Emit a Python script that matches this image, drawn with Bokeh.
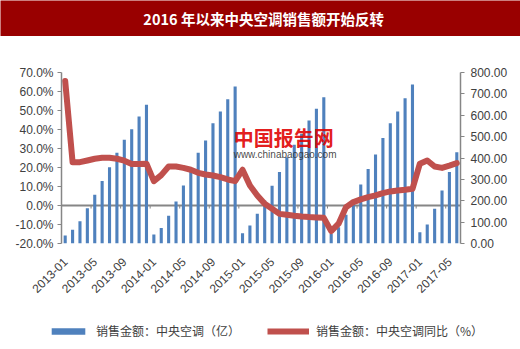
import math
from bokeh.plotting import figure
from bokeh.models import (Range1d, LinearAxis, Span, Legend, LegendItem,
                          FixedTicker, PrintfTickFormatter, Label, ColumnDataSource)
from bokeh.layouts import column
from bokeh.embed import file_html
from bokeh.resources import INLINE
from bokeh.core.properties import value

title_text = "2016 年以来中央空调销售额开始反转"

months = [
    "2013-01", "2013-02", "2013-03", "2013-04", "2013-05", "2013-06",
    "2013-07", "2013-08", "2013-09", "2013-10", "2013-11", "2013-12",
    "2014-01", "2014-02", "2014-03", "2014-04", "2014-05", "2014-06",
    "2014-07", "2014-08", "2014-09", "2014-10", "2014-11", "2014-12",
    "2015-01", "2015-02", "2015-03", "2015-04", "2015-05", "2015-06",
    "2015-07", "2015-08", "2015-09", "2015-10", "2015-11", "2015-12",
    "2016-01", "2016-02", "2016-03", "2016-04", "2016-05", "2016-06",
    "2016-07", "2016-08", "2016-09", "2016-10", "2016-11", "2016-12",
    "2017-01", "2017-02", "2017-03", "2017-04", "2017-05", "2017-06",
]

# 销售金额：中央空调（亿） - cumulative, right axis
sales = [
    37, 64, 104, 165, 228, 292, 357, 424, 485, 535, 594, 649,
    42, 73, 130, 196, 271, 341, 424, 482, 563, 617, 675, 734,
    48, 84, 139, 201, 270, 334, 404, 462, 513, 575, 630, 684,
    45, 76, 134, 205, 276, 349, 416, 494, 563, 617, 680, 744,
    53, 89, 162, 248, 334, 427,
]

# 销售金额：中央空调同比（%） - left axis
yoy = [
    65.5, 22.8, 22.8, 23.7, 24.6, 25.1, 25.1, 24.6, 23.6, 21.9, 21.8, 22.0,
    12.8, 16.0, 20.5, 20.5, 19.8, 18.8, 17.2, 16.3, 15.8, 14.9, 13.7, 12.8,
    18.8, 10.5, 5.3, 0.9, -1.7, -4.4, -4.9, -5.4, -5.8, -6.1, -6.3, -6.5,
    -13.5, -9.6, -0.9, 1.8, 3.2, 4.4, 5.3, 6.5, 7.4, 7.9, 8.3, 8.8,
    22.0, 23.7, 20.5, 19.8, 21.0, 22.3,
]

label_step = 4
left_ticks = [-20, -10, 0, 10, 20, 30, 40, 50, 60, 70]
right_ticks = [0, 100, 200, 300, 400, 500, 600, 700, 800]
legend_labels = ["销售金额：中央空调（亿）", "销售金额：中央空调同比（%）"]

BAR_COLOR = "#4F81BD"
LINE_COLOR = "#C0504D"
AXIS_COLOR = "#868686"
TEXT_COLOR = "#404040"

# ---------- banner ----------
banner = figure(width=520, height=36, x_range=Range1d(0, 1), y_range=Range1d(0, 1),
                output_backend="svg", toolbar_location=None, min_border=0,
                x_axis_location=None, y_axis_location=None)
banner.frame_align = False
banner.grid.visible = False
banner.outline_line_color = None
banner.background_fill_color = "#990000"
banner.border_fill_color = "#990000"
banner.text(x=[0.506], y=[0.5], text=[title_text], text_color="white",
            text_font=value("Noto Sans CJK SC"), text_font_style="bold",
            text_font_size="14.5px", text_align="center", text_baseline="middle")

# ---------- main chart ----------
idx = list(range(len(months)))
src = ColumnDataSource(dict(x=idx, sales=sales, yoy=yoy))

p = figure(width=520, height=274, output_backend="svg", toolbar_location=None,
           x_range=Range1d(-0.5, len(months) - 0.5), y_range=Range1d(-20, 70),
           min_border_left=61, min_border_right=60, min_border_top=36,
           min_border_bottom=67)
p.frame_align = False
p.extra_y_ranges = {"right": Range1d(0, 800)}
p.grid.visible = False
p.outline_line_color = None
p.background_fill_color = "white"
p.border_fill_color = "white"

zero = Span(location=0, dimension="width", line_color=AXIS_COLOR, line_width=2,
            level="underlay")
p.add_layout(zero)

tick_x = [i - 0.5 for i in range(label_step, len(months), label_step)]
p.segment(x0=tick_x, x1=tick_x, y0=[0] * len(tick_x), y1=[-1.6] * len(tick_x),
          line_color=AXIS_COLOR, line_width=1)

bars = p.vbar(x="x", top="sales", width=0.42, source=src, y_range_name="right",
              fill_color=BAR_COLOR, line_color=None)
line = p.line(x="x", y="yoy", source=src, line_color=LINE_COLOR, line_width=6,
              line_join="round", line_cap="round")

# x axis (labels only)
xa = p.xaxis[0]
xa.ticker = FixedTicker(ticks=list(range(0, len(months), label_step)))
xa.major_label_overrides = {i: months[i] for i in range(0, len(months), label_step)}
xa.major_label_orientation = math.pi / 4
xa.axis_line_color = None
xa.major_tick_line_color = None
xa.minor_tick_line_color = None
xa.major_label_text_font = "Liberation Sans"
xa.major_label_text_font_size = "12px"
xa.major_label_text_color = TEXT_COLOR
xa.major_label_standoff = 10

# left axis
ya = p.yaxis[0]
ya.ticker = FixedTicker(ticks=left_ticks)
ya.formatter = PrintfTickFormatter(format="%.1f%%")
ya.axis_line_color = AXIS_COLOR
ya.axis_line_width = 1.5
ya.major_tick_line_color = AXIS_COLOR
ya.major_tick_out = 4
ya.major_tick_in = 0
ya.minor_tick_line_color = None
ya.major_label_text_font = "Liberation Sans"
ya.major_label_text_font_size = "12px"
ya.major_label_text_color = TEXT_COLOR
ya.major_label_standoff = 4

# right axis
ra = LinearAxis(y_range_name="right", ticker=FixedTicker(ticks=right_ticks),
                formatter=PrintfTickFormatter(format="%.2f"))
ra.axis_line_color = AXIS_COLOR
ra.axis_line_width = 1.5
ra.major_tick_line_color = AXIS_COLOR
ra.major_tick_out = 4
ra.major_tick_in = 0
ra.minor_tick_line_color = None
ra.major_label_text_font = "Liberation Sans"
ra.major_label_text_font_size = "12px"
ra.major_label_text_color = TEXT_COLOR
ra.major_label_standoff = 6
p.add_layout(ra, "right")

# watermark
p.add_layout(Label(x=22.8, y=35.8, text="中国报告网", text_color="#e00000",
                   text_font="Noto Sans CJK SC", text_font_style="bold",
                   text_font_size="20px", text_baseline="middle", text_alpha=0.9))
p.add_layout(Label(x=22.8, y=26.8, text="www.chinabaogao.com", text_color="#333333",
                   text_font="Liberation Sans", text_font_size="10px",
                   text_baseline="middle", text_alpha=0.9))

# ---------- legend strip (series drawn off-view, only the legend shows) ----------
lg = figure(width=520, height=39, x_range=Range1d(-1000, -999), y_range=Range1d(-1000, -999),
            output_backend="svg", toolbar_location=None, min_border=0,
            x_axis_location=None, y_axis_location=None)
lg.frame_align = False
lg.grid.visible = False
lg.outline_line_color = None
lg.background_fill_color = "white"
lg.border_fill_color = "white"
lbar = lg.vbar(x="x", top="sales", width=0.42, source=src,
               fill_color=BAR_COLOR, line_color=None)
lline = lg.line(x="x", y="yoy", source=src, line_color=LINE_COLOR, line_width=6)

legend = Legend(items=[LegendItem(label=legend_labels[0], renderers=[lbar]),
                       LegendItem(label=legend_labels[1], renderers=[lline])],
                orientation="horizontal", location=(47, 10),
                glyph_width=42, glyph_height=8, label_standoff=7, spacing=27,
                label_text_font="Noto Sans CJK SC", label_text_font_size="12px",
                label_text_color=TEXT_COLOR, border_line_color=None,
                background_fill_alpha=0, padding=0, margin=0)
lg.add_layout(legend)

layout = column(banner, p, lg, spacing=0)
open("out.html", "w").write(file_html(layout, INLINE))
